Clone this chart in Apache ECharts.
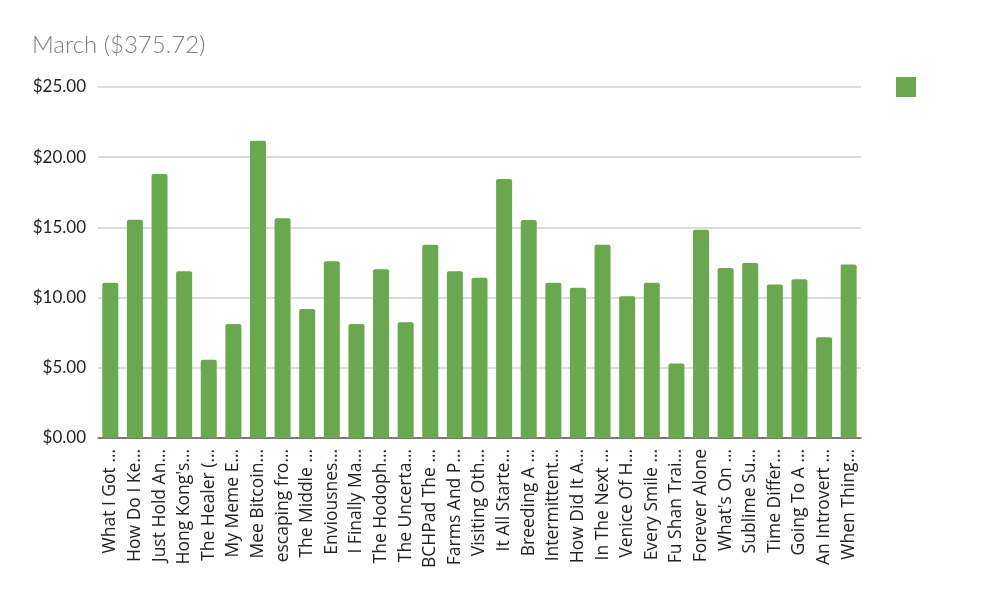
<!DOCTYPE html>
<html>
<head>
<meta charset="utf-8">
<script src="https://cdn.jsdelivr.net/npm/echarts@6/dist/echarts.min.js"></script>
<style>
  html, body { margin: 0; padding: 0; background: #fff; }
  #main { width: 988px; height: 604px; }
</style>
</head>
<body>
<div id="main"></div>
<script>
// chart data
var categories = [
  'What I Got …', 'How Do I Ke…', 'Just Hold An…', "Hong Kong's…", 'The Healer (…',
  'My Meme E…', 'Mee Bitcoin…', 'escaping fro…', 'The Middle …', 'Enviousnes…',
  'I Finally Ma…', 'The Hodoph…', 'The Uncerta…', 'BCHPad The …', 'Farms And P…',
  'Visiting Oth…', 'It All Starte…', 'Breeding A …', 'Intermittent…', 'How Did It A…',
  'In The Next …', 'Venice Of H…', 'Every Smile …', 'Fu Shan Trai…', 'Forever Alone',
  "What's On …", 'Sublime Su…', 'Time Differ…', 'Going To A …', 'An Introvert …',
  'When Thing…'
];
var earnings = [
  11.05, 15.55, 18.81, 11.88, 5.57,
  8.12, 21.17, 15.66, 9.18, 12.59,
  8.12, 12.02, 8.24, 13.77, 11.88,
  11.42, 18.45, 15.52, 11.05, 10.70,
  13.77, 10.10, 11.05, 5.30, 14.84,
  12.11, 12.47, 10.94, 11.31, 7.18,
  12.35
];
var yTicks = [0, 5, 10, 15, 20, 25];

var green = '#6aa84f';
var font = 'Lato, "Open Sans", sans-serif';

var myChart = echarts.init(document.getElementById('main'));

var option = {
  animation: false,
  title: {
    text: 'March ($375.72)',
    left: 27,
    top: 28,
    textStyle: { color: '#7f7f7f', fontSize: 24, fontWeight: 300, fontFamily: font }
  },
  legend: {
    data: [' '],
    left: 891,
    top: 72,
    icon: 'rect',
    itemWidth: 20,
    itemHeight: 20,
    itemGap: 0,
    formatter: function () { return ''; }
  },
  grid: { left: 98, right: 127, top: 87, bottom: 166 },
  xAxis: {
    type: 'category',
    data: categories,
    axisTick: { show: false },
    axisLine: { lineStyle: { color: '#595959', width: 1.5 } },
    axisLabel: {
      rotate: 90,
      interval: 0,
      margin: 11,
      color: '#222',
      fontSize: 17.5,
      fontFamily: '"Open Sans", sans-serif'
    }
  },
  yAxis: {
    type: 'value',
    min: yTicks[0],
    max: yTicks[yTicks.length - 1],
    interval: 5,
    axisLine: { show: false },
    axisTick: { show: false },
    splitLine: { lineStyle: { color: '#d0d0d0', width: 1.5 } },
    axisLabel: {
      margin: 12,
      color: '#222',
      fontSize: 17,
      fontFamily: font,
      formatter: function (v) { return '$' + v.toFixed(2); }
    }
  },
  series: [
    {
      name: ' ',
      type: 'bar',
      data: earnings,
      barWidth: 16,
      itemStyle: { color: green, borderRadius: [2, 2, 0, 0] }
    }
  ]
};

myChart.setOption(option);
</script>
</body>
</html>
